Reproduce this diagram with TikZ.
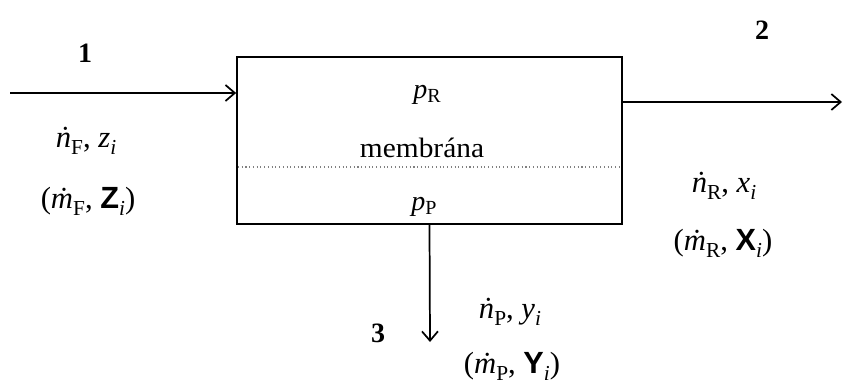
\documentclass[tikz,border=0pt]{standalone}
\usepackage{fontspec}
\setmainfont{Liberation Serif}
\newfontfamily\sansb{Liberation Sans}
\usetikzlibrary{arrows.meta}
\newcommand\dn{\textit{ṅ}}
\newcommand\dm{\textit{ṁ}}
\newcommand\sbs[1]{\raisebox{-0.5ex}{\fontsize{16}{16}\selectfont #1}}
\newcommand\sbp[1]{\raisebox{-0.3ex}{\fontsize{15}{15}\selectfont #1}}
\tikzset{
  flow/.style={line width=1.3pt, -{Straight Barb[length=7pt,width=12pt,line width=1.3pt]}},
  lbl/.style={inner sep=0pt, font=\fontsize{21}{24}\selectfont},
  mlbl/.style={inner sep=0pt, font=\fontsize{23}{26}\selectfont},
  num/.style={inner sep=0pt, font=\fontsize{21}{24}\selectfont\bfseries},
}
\begin{document}
\begin{tikzpicture}[x=0.75pt,y=-0.75pt]
\useasboundingbox (0,0) rectangle (844,385);
% membrane unit
\node[draw, line width=1.3pt, minimum width=288.75pt, minimum height=125.25pt, inner sep=0pt] (box) at (429.5,140.5) {};
\coordinate (ml) at (238,167);
\coordinate (mr) at (621,167);
\draw[gray, dotted, line width=0.8pt] (ml) -- (mr);
\node[lbl] (pR) at (427,95) {\textit{p}\sbp{R}};
\node[lbl] (mem) at (422,148) {\scalebox{1.05}[1]{membrána}};
\node[lbl] (pP) at (424,207) {\textit{p}\sbp{P}};
% stream 1
\coordinate (in) at (10,93);
\draw[flow] (in) -- (in -| box.west);
\node[num] (n1) at (85,53) {1};
\node[mlbl] (l1a) at (86,141) {\dn\sbs{F}, \textit{z}\sbs{\textit{i}}};
\node[mlbl] (l1b) at (88,201) {(\dm\sbs{F}, {\sansb\bfseries Z}\sbs{\textit{i}})};
% stream 2
\coordinate (r0) at (622,102);
\coordinate (out) at (842,102);
\draw[flow] (r0 -| box.east) -- (out);
\node[num] (n2) at (762,30) {2};
\node[mlbl] (l2a) at (724,186) {\dn\sbs{R}, \textit{x}\sbs{\textit{i}}};
\node[mlbl] (l2b) at (723,243) {(\dm\sbs{R}, {\sansb\bfseries X}\sbs{\textit{i}})};
% stream 3
\coordinate (bot) at (430,342);
\draw[flow] (box.south) -- (bot);
\node[num] (n3) at (378,333) {3};
\node[mlbl] (l3a) at (510,312) {\dn\sbs{P}, \textit{y}\sbs{\textit{i}}};
\node[mlbl] (l3b) at (512,366) {(\dm\sbs{P}, {\sansb\bfseries Y}\sbs{\textit{i}})};
\end{tikzpicture}
\end{document}
